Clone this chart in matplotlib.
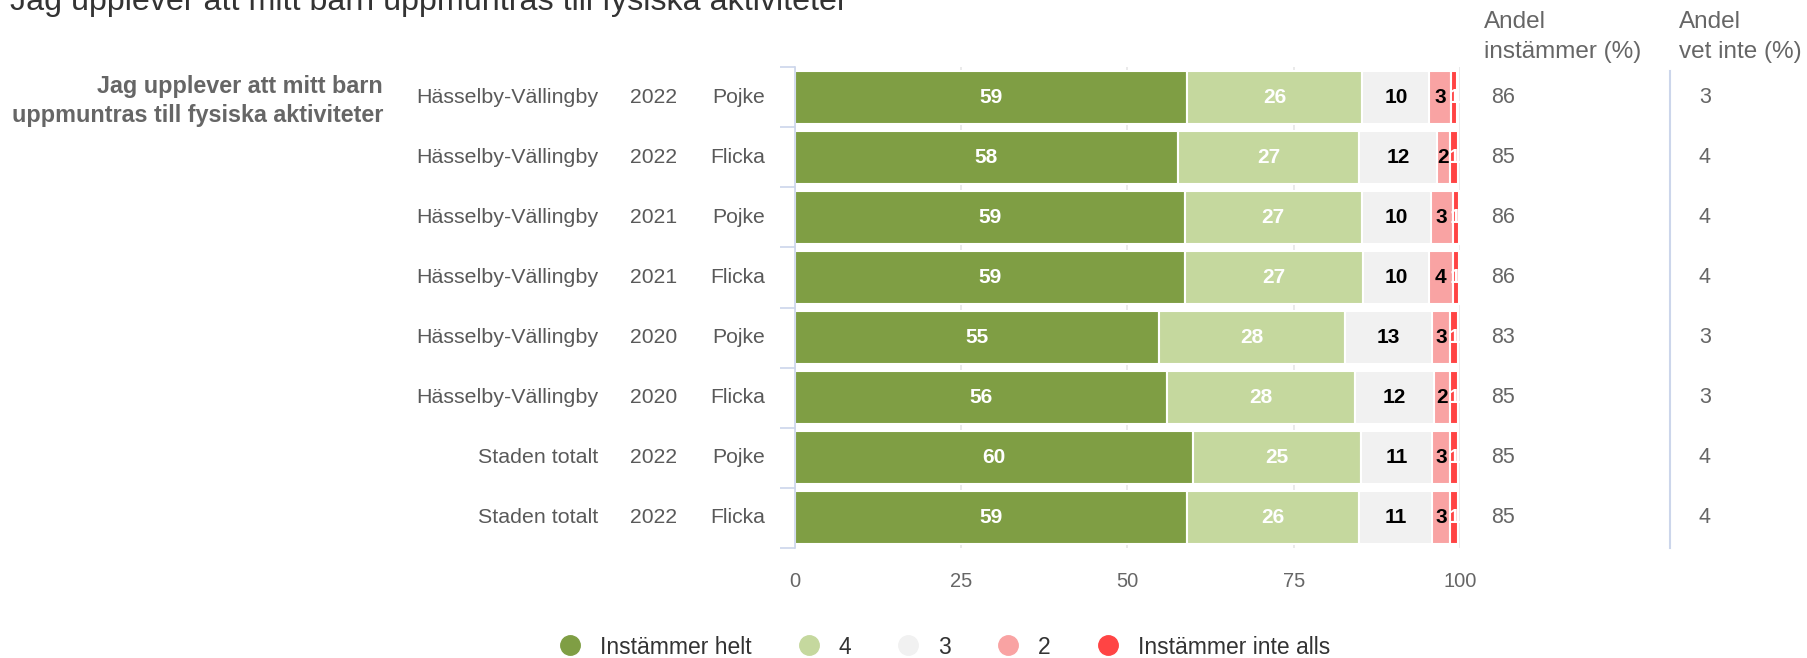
import matplotlib
matplotlib.use("Agg")
import matplotlib.pyplot as plt
from matplotlib.lines import Line2D
from matplotlib.transforms import blended_transform_factory

plt.rcParams['font.family'] = ['Liberation Sans', 'DejaVu Sans']

# data (percent; labels are these values rounded)
areas = ['Hässelby-Vällingby'] * 6 + ['Staden totalt'] * 2
years = ['2022', '2022', '2021', '2021', '2020', '2020', '2022', '2022']
genders = ['Pojke', 'Flicka'] * 4
helt = [58.9, 57.6, 58.6, 58.6, 54.7, 55.9, 59.8, 58.9]
fyra = [26.4, 27.2, 26.6, 26.8, 28.0, 28.3, 25.3, 25.9]
tre = [10.1, 11.7, 10.4, 9.9, 13.1, 11.9, 10.7, 11.0]
tva = [3.3, 2.0, 3.3, 3.6, 2.7, 2.4, 2.7, 2.7]
inte_alls = [0.9, 1.2, 0.9, 0.9, 1.2, 1.2, 1.2, 1.2]
andel_instammer = [86, 85, 86, 86, 83, 85, 85, 85]
andel_vet_inte = [3, 4, 4, 4, 3, 3, 4, 4]

series_names = ['Instämmer helt', '4', '3', '2', 'Instämmer inte alls']
colors = ['#7f9e44', '#c5d89e', '#f1f1f1', '#f9a3a3', '#ff4444']
label_colors = ['white', 'white', 'black', 'black', 'white']

title = 'Jag upplever att mitt barn uppmuntras till fysiska aktiviteter'
question = 'Jag upplever att mitt barn\nuppmuntras till fysiska aktiviteter'

W, H = 1808, 658
fig = plt.figure(figsize=(W / 100, H / 100), dpi=100)
ax = fig.add_axes([795 / W, 1 - 548 / H, (1460 - 795) / W, (548 - 67) / H])

n = len(areas)
ypos = list(range(n))
left = [0] * n
for vals, col, lcol in zip([helt, fyra, tre, tva, inte_alls], colors, label_colors):
    bars = ax.barh(ypos, vals, left=left, height=0.88, color=col,
                   edgecolor='white', linewidth=1.5, zorder=2)
    for b, v, l in zip(bars, vals, left):
        t = ax.text(l + v / 2, b.get_y() + b.get_height() / 2, f'{v:.0f}',
                    ha='center', va='center', color=lcol, fontsize=15,
                    fontweight='bold', zorder=3)
        if v < 1.5:
            t.set_clip_path(b)
    left = [a + b for a, b in zip(left, vals)]

ax.set_xlim(0, 100)
ax.set_ylim(n - 0.5, -0.5)
ax.set_xticks([0, 25, 50, 75, 100])
ax.tick_params(axis='x', length=0, pad=17, labelsize=14.5, labelcolor='#666666')
ax.set_yticks([i - 0.5 for i in range(n + 1)])
ax.set_yticklabels([])
ax.tick_params(axis='y', length=11, color='#ccd6eb', width=1.2)
ax.grid(axis='x', color='#e6e6e6', linewidth=1.2, zorder=0)
ax.set_axisbelow(True)
for s in ['top', 'right', 'bottom']:
    ax.spines[s].set_visible(False)
ax.spines['left'].set_color('#ccd6eb')
ax.spines['left'].set_linewidth(1.2)

tr = blended_transform_factory(fig.transFigure, ax.transData)
for i in range(n):
    ax.text(598 / W, i, areas[i], transform=tr, ha='right', va='center',
            fontsize=15.4, color='#595959')
    ax.text(654 / W, i, years[i], transform=tr, ha='center', va='center',
            fontsize=15.2, color='#595959')
    ax.text(765 / W, i, genders[i], transform=tr, ha='right', va='center',
            fontsize=15.2, color='#595959')
    ax.text(1491 / W, i, str(andel_instammer[i]), transform=tr, ha='left',
            va='center', fontsize=15.5, color='#666666')
    ax.text(1705 / W, i, str(andel_vet_inte[i]), transform=tr, ha='center',
            va='center', fontsize=15.5, color='#666666')

fig.add_artist(Line2D([1670 / W, 1670 / W], [1 - 71 / H, 1 - 548 / H],
                      color='#ccd6eb', linewidth=1.5))

fig.text(1484 / W, 1 - 37 / H, 'Andel\ninstämmer (%)', ha='left', va='center',
         fontsize=17.5, color='#666666', linespacing=1.45)
fig.text(1679 / W, 1 - 37 / H, 'Andel\nvet inte (%)', ha='left', va='center',
         fontsize=17.5, color='#666666', linespacing=1.45)

fig.text(383 / W, 1 - 101 / H, question, ha='right', va='center',
         multialignment='right', fontsize=16.8, fontweight='bold',
         color='#666666', linespacing=1.3)

fig.text(10 / W, 1 - 10 / H, title, ha='left', va='baseline', fontsize=23.2,
         color='#333333')

handles = [Line2D([], [], marker='o', linestyle='none', markersize=14,
                  markerfacecolor=c, markeredgecolor=c) for c in colors]
fig.legend(handles, series_names, loc='center', bbox_to_anchor=(0.519, 1 - 647 / H),
           ncol=5, frameon=False, fontsize=16.5, handletextpad=0.3,
           columnspacing=1.5, labelcolor='#333333', borderpad=0)

fig.savefig('out.png', dpi=100)
